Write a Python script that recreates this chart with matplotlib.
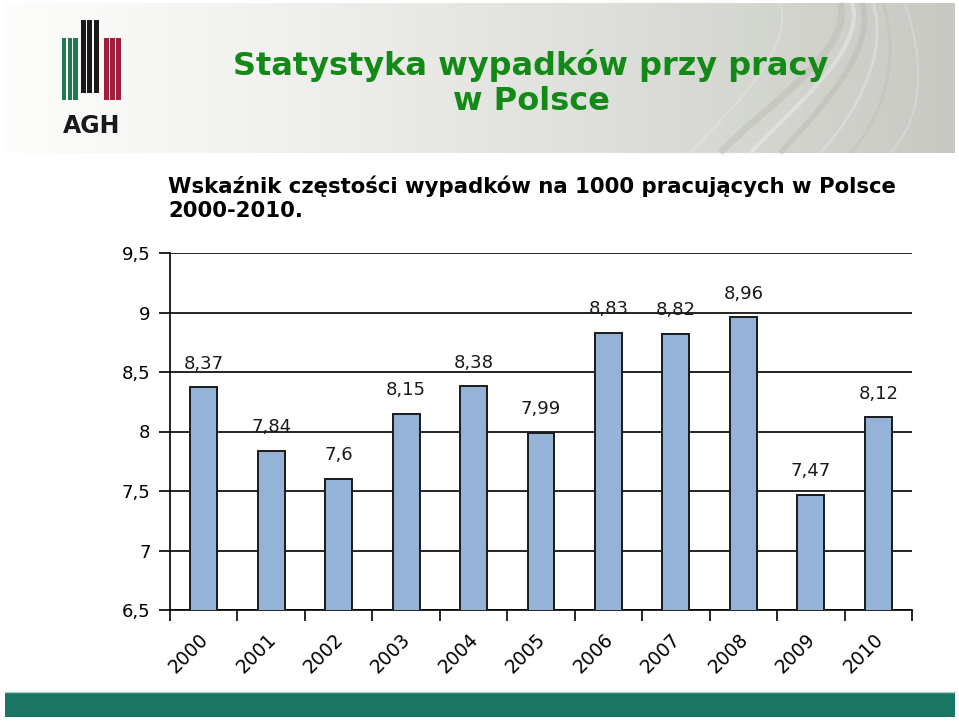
import matplotlib
matplotlib.use("Agg")
import matplotlib.pyplot as plt
import matplotlib.transforms as mtransforms
import numpy as np
from matplotlib.patches import Rectangle, PathPatch
from matplotlib.path import Path

years = ["2000", "2001", "2002", "2003", "2004", "2005", "2006", "2007", "2008", "2009", "2010"]
values = [8.37, 7.84, 7.6, 8.15, 8.38, 7.99, 8.83, 8.82, 8.96, 7.47, 8.12]
value_labels = ["8,37", "7,84", "7,6", "8,15", "8,38", "7,99", "8,83", "8,82", "8,96", "7,47", "8,12"]
y_ticks = [6.5, 7, 7.5, 8, 8.5, 9, 9.5]
y_tick_labels = ["6,5", "7", "7,5", "8", "8,5", "9", "9,5"]

title_1 = "Statystyka wypadków przy pracy"
title_2 = "w Polsce"
subtitle_1 = "Wskaźnik częstości wypadków na 1000 pracujących w Polsce"
subtitle_2 = "2000-2010."

W, H = 959, 721
fig = plt.figure(figsize=(W / 100, H / 100), dpi=100)
fig.patch.set_facecolor("white")

# background layer in pixel coordinates
bg = fig.add_axes([0, 0, 1, 1], zorder=0)
bg.set_xlim(0, W)
bg.set_ylim(H, 0)
bg.axis("off")

# header gradient
grad = np.linspace(0, 1, 256) ** 1.2
c0 = np.array([0.99, 0.99, 0.985])
c1 = np.array([0.78, 0.79, 0.76])
img = c0[None, :] + (c1 - c0)[None, :] * grad[:, None]
bg.imshow(img[None, :, :], extent=[5, 955, 153, 3], aspect="auto", zorder=1)

# decorative curved stripes in header
def stripe(x_top, x_bot, color, lw, alpha):
    verts = [(x_top, 3), (x_top + 15, 50), (x_bot + 40, 110), (x_bot, 153)]
    codes = [Path.MOVETO, Path.CURVE4, Path.CURVE4, Path.CURVE4]
    bg.add_patch(PathPatch(Path(verts, codes), facecolor="none", edgecolor=color,
                           lw=lw, alpha=alpha, zorder=2))

for xt, xb, col, lw, a in [
    (840, 720, "#b5b8b0", 5, 0.4), (852, 750, "#ffffff", 3, 0.3),
    (862, 780, "#b0b3aa", 4, 0.35), (873, 820, "#ffffff", 2, 0.25),
    (883, 850, "#b8bbb3", 2, 0.35), (780, 690, "#ffffff", 1.5, 0.2),
    (905, 890, "#ffffff", 1.5, 0.2)]:
    stripe(xt, xb, col, lw, a)

# AGH logo
def logo_group(x0, x1, ytop, ybot, color):
    w = (x1 - x0) / 3.0
    for i in range(3):
        bg.add_patch(Rectangle((x0 + i * w, ytop), w * 0.78, ybot - ytop,
                               facecolor=color, edgecolor="none", zorder=3))

logo_group(62, 79, 38, 100, "#1f7a52")
logo_group(81, 100, 20, 93, "#1a1a1a")
logo_group(104, 122, 38, 100, "#a01f3c")
bg.text(92, 126, "AGH", ha="center", va="center", fontsize=17, fontweight="bold",
        color="#1a1a1a", family="DejaVu Sans Condensed", zorder=3)

# title
bg.text(531, 65, title_1, ha="center", va="center", fontsize=23, fontweight="bold",
        color="#138a17", family="DejaVu Sans", zorder=3)
bg.text(531, 101, title_2, ha="center", va="center", fontsize=23, fontweight="bold",
        color="#138a17", family="DejaVu Sans", zorder=3)

# subtitle
bg.text(168, 186, subtitle_1, ha="left", va="center", fontsize=15.3, fontweight="bold",
        color="black", family="DejaVu Sans", zorder=3)
bg.text(168, 211, subtitle_2, ha="left", va="center", fontsize=15.3, fontweight="bold",
        color="black", family="DejaVu Sans", zorder=3)

# bottom band
bg.add_patch(Rectangle((5, 693), 950, 24, facecolor="#1a7563", edgecolor="none", zorder=2))
bg.plot([5, 955], [691.5, 691.5], color="#a8cfc6", lw=1, zorder=2)

# chart
ax = fig.add_axes([170 / W, 1 - 610 / H, (912 - 170) / W, (610 - 253) / H], zorder=5)
ax.patch.set_alpha(0)
x = np.arange(len(years))
ax.bar(x, values, width=0.4, color="#95b3d7", edgecolor="#1a1a1a", linewidth=1.4, zorder=3)
ax.set_xlim(-0.5, len(years) - 0.5)
ax.set_ylim(6.5, 9.5)
ax.set_yticks(y_ticks)
ax.set_yticklabels(y_tick_labels, fontsize=13)
ax.tick_params(axis="y", length=8, width=1.2, pad=6, colors="black")
ax.grid(axis="y", color="black", lw=1.2, zorder=1)
ax.set_axisbelow(True)

ax.set_xticks(np.arange(-0.5, len(years), 1.0))
ax.set_xticklabels([])
ax.tick_params(axis="x", which="major", length=8, width=1.2)
ax.set_xticks(x, minor=True)
ax.set_xticklabels(years, minor=True, rotation=45, ha="right", va="top",
                   rotation_mode="anchor", fontsize=13.5)
ax.tick_params(axis="x", which="minor", length=0, pad=14)
shift = mtransforms.ScaledTranslation(-5 / 100, 0, fig.dpi_scale_trans)
for lab in ax.get_xticklabels(minor=True):
    lab.set_transform(lab.get_transform() + shift)

for s in ["top", "right"]:
    ax.spines[s].set_visible(False)
for s in ["left", "bottom"]:
    ax.spines[s].set_color("black")
    ax.spines[s].set_linewidth(1.2)

for xi, v, lab in zip(x, values, value_labels):
    ax.annotate(lab, (xi, v), xytext=(0, 17), textcoords="offset points",
                ha="center", va="center", fontsize=13, color="#1a1a1a", zorder=4)

fig.savefig("out.png", dpi=100)
